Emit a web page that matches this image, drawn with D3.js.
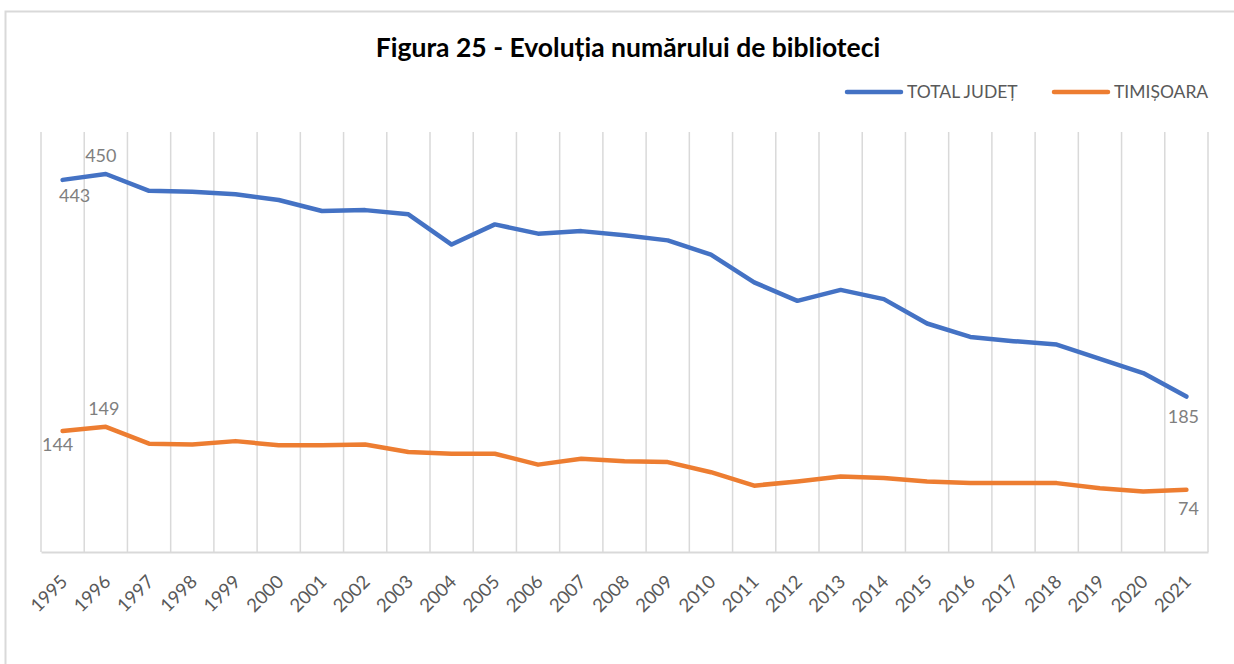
<!DOCTYPE html>
<html>
<head>
<meta charset="utf-8">
<script src="https://cdn.jsdelivr.net/npm/d3@7"></script>
<style>
  body { margin: 0; background: #fff; }
  svg { display: block; font-family: Lato, "Open Sans", sans-serif; }
</style>
</head>
<body>
<div id="chart"></div>
<script>
// date
const years = ["1995","1996","1997","1998","1999","2000","2001","2002","2003","2004","2005","2006","2007",
  "2008","2009","2010","2011","2012","2013","2014","2015","2016","2017","2018","2019","2020","2021"];
const totalJudet = [443,450,430,429,426,419,406,407,402,366,390,379,382,377,371,354,321,299,312,301,272,256,251,247,230,213,185];
const timisoara = [144,149,129,128,132,127,127,128,119,117,117,104,111,108,107,95,79,84,90,88,84,82,82,82,76,72,74];
const seriesNames = ["TOTAL JUDEȚ", "TIMIȘOARA"];
const seriesColors = ["#4472C4", "#ED7D31"];

const W = 1234, H = 664;
const margin = { top: 132, right: 26, bottom: 112, left: 41 };
const width = W - margin.left - margin.right,
      height = H - margin.top - margin.bottom;

const svg = d3.select("#chart").append("svg")
  .attr("width", W).attr("height", H);

// chenar
svg.append("rect")
  .attr("x", 5.5).attr("y", 11.5)
  .attr("width", W).attr("height", H)
  .attr("fill", "none").attr("stroke", "#d9d9d9").attr("stroke-width", 2);

// titlu
svg.append("text")
  .attr("x", 628).attr("y", 57)
  .attr("text-anchor", "middle")
  .style("font-size", "26.5px").style("font-weight", "bold").style("fill", "#000")
  .text("Figura 25 - Evoluția numărului de biblioteci");

const g = svg.append("g").attr("transform", `translate(${margin.left},${margin.top})`);

const x = d3.scaleBand().domain(years).range([0, width]).padding(0);
const y = d3.scaleLinear().domain([0, 500]).range([height, 0]);
const cx = d => x(d) + x.bandwidth() / 2;

// linii verticale de grilă
const gridPos = years.map(d => x(d)).concat([width]);
g.append("g").selectAll("line").data(gridPos).join("line")
  .attr("x1", d => d).attr("x2", d => d)
  .attr("y1", 0).attr("y2", height)
  .attr("stroke", "#d9d9d9").attr("stroke-width", 1.5);

// axa X
const xAxis = g.append("g")
  .attr("transform", `translate(0,${height})`)
  .call(d3.axisBottom(x).tickSize(0).tickPadding(0));
xAxis.select(".domain").attr("stroke", "#d9d9d9").attr("stroke-width", 2);
xAxis.selectAll("text")
  .attr("text-anchor", "end")
  .attr("dy", 0)
  .attr("transform", "translate(6,31) rotate(-45)")
  .style("font-size", "18.5px")
  .style("font-family", "Lato, sans-serif")
  .style("fill", "#595959");

// linii
const line = d3.line().x((d, i) => cx(years[i])).y(d => y(d));
[totalJudet, timisoara].forEach((s, k) => {
  g.append("path").datum(s)
    .attr("d", line)
    .attr("fill", "none")
    .attr("stroke", seriesColors[k])
    .attr("stroke-width", 4.5)
    .attr("stroke-linejoin", "round")
    .attr("stroke-linecap", "round");
});

// etichete de date
const labels = [
  { s: totalJudet, i: 0, dx: 12, dy: 22 },
  { s: totalJudet, i: 1, dx: -5, dy: -12 },
  { s: totalJudet, i: 26, dx: -3, dy: 26 },
  { s: timisoara, i: 0, dx: -5, dy: 20 },
  { s: timisoara, i: 1, dx: -2, dy: -12 },
  { s: timisoara, i: 26, dx: 2, dy: 25 }
];
g.append("g").selectAll("text").data(labels).join("text")
  .attr("x", d => cx(years[d.i]) + d.dx)
  .attr("y", d => y(d.s[d.i]) + d.dy)
  .attr("text-anchor", "middle")
  .style("font-size", "18px")
  .style("fill", "#7f7f7f")
  .text(d => d.s[d.i]);

// legenda
const legendX = [847, 1054];
seriesNames.forEach((name, k) => {
  svg.append("line")
    .attr("x1", legendX[k]).attr("x2", legendX[k] + 54)
    .attr("y1", 92).attr("y2", 92)
    .attr("stroke", seriesColors[k]).attr("stroke-width", 4.5)
    .attr("stroke-linecap", "round");
  svg.append("text")
    .attr("x", legendX[k] + 60).attr("y", 98)
    .style("font-size", "17.5px").style("fill", "#595959")
    .text(name);
});
</script>
</body>
</html>
